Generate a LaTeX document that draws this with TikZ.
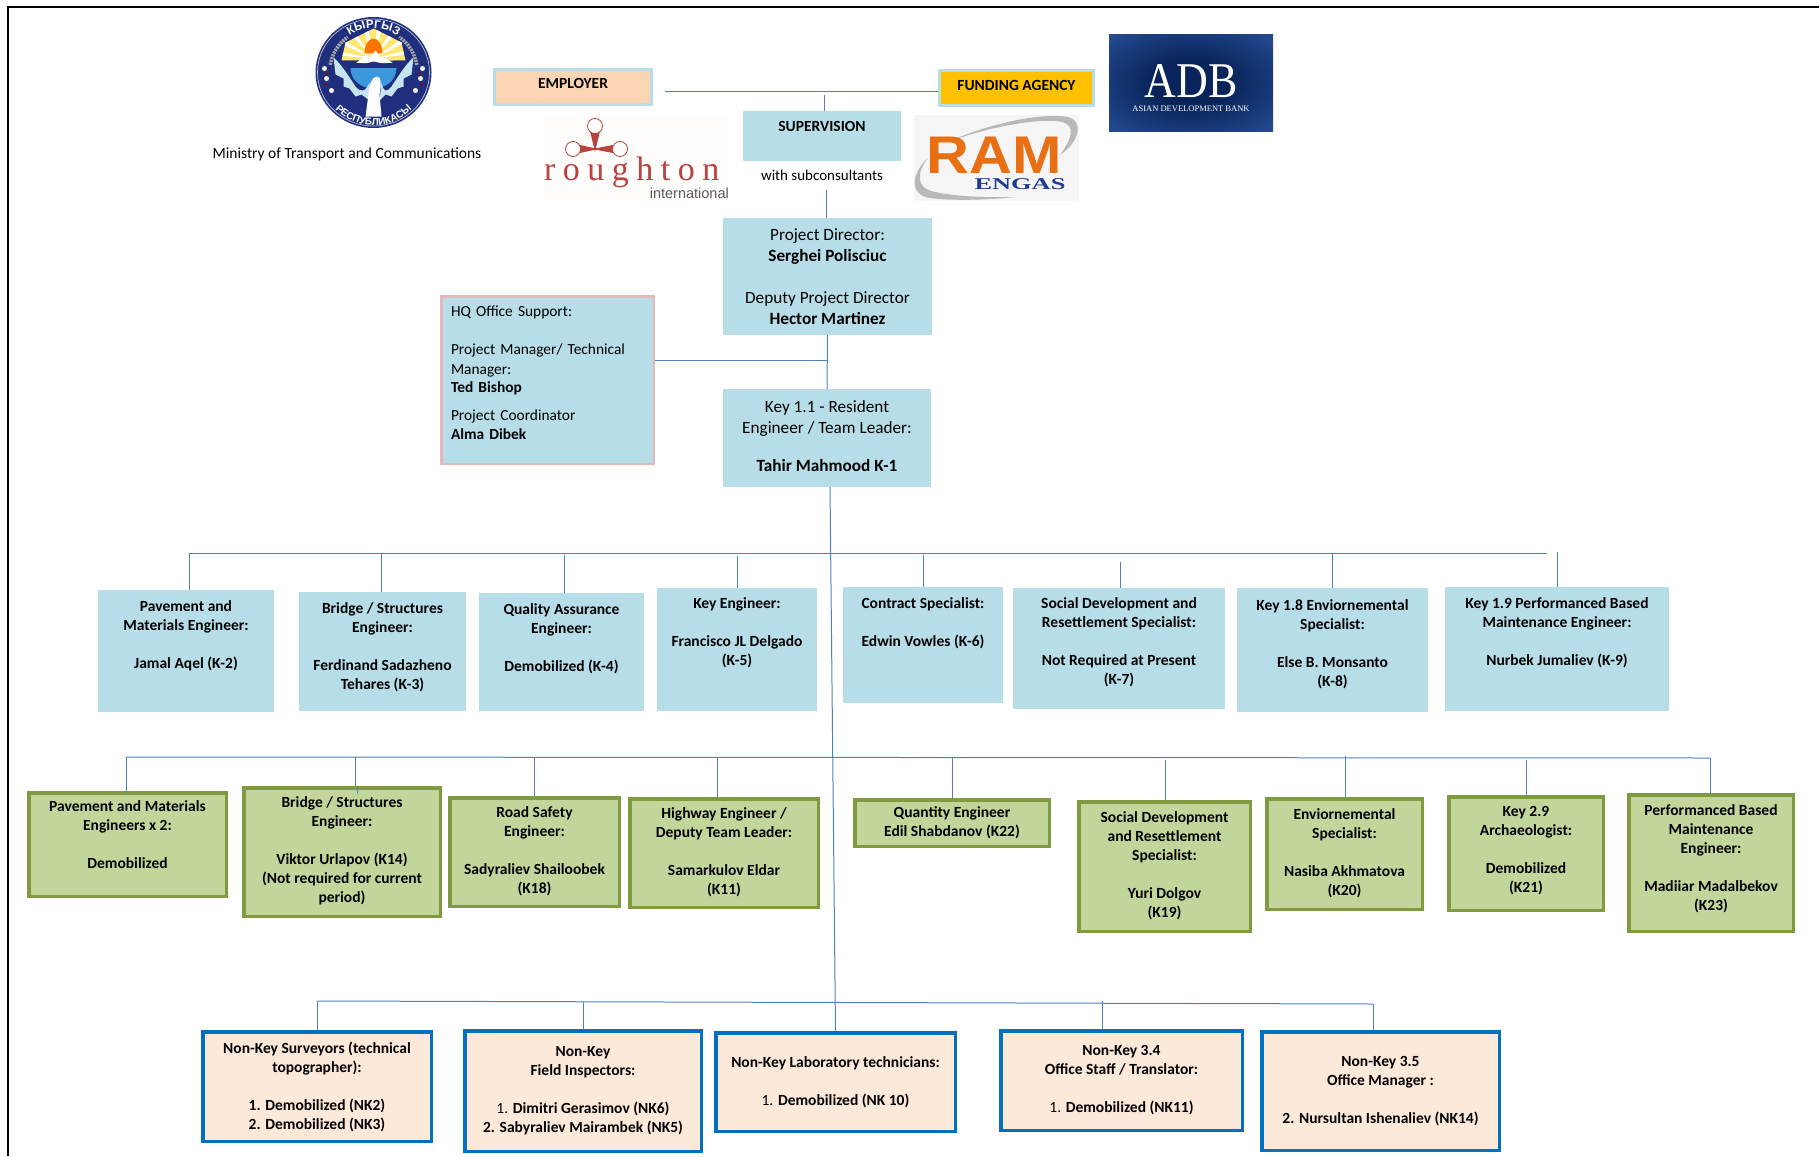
\documentclass[tikz,border=0pt]{standalone}
\usepackage{fontspec}
\setmainfont{Carlito}
\newfontfamily\emblemfont{Liberation Sans}
\newfontfamily\serifface{Liberation Serif}
\newfontfamily\spacedface[LetterSpace=22]{Liberation Serif}
\newfontfamily\sansface{Liberation Sans}
\usetikzlibrary{positioning,decorations.text}

\definecolor{paleblue}{HTML}{B7DDE8}
\definecolor{palegreen}{HTML}{C2D69B}
\definecolor{darkgreen}{HTML}{7F9A3F}
\definecolor{palepeach}{HTML}{FDE9D9}
\definecolor{peach}{HTML}{FBD4B4}
\definecolor{linkblue}{HTML}{4F81BD}
\definecolor{boxblue}{HTML}{0070C0}
\definecolor{hqpink}{HTML}{E6B8B7}
\definecolor{fundgold}{HTML}{FFC000}
\definecolor{navyring}{HTML}{1F2F7E}
\definecolor{logored}{HTML}{B8433F}
\definecolor{ramorange}{HTML}{E86F14}
\definecolor{ramblue}{HTML}{1F3A93}
\definecolor{adbdark}{HTML}{08245A}
\definecolor{adbmid}{HTML}{24498F}
\definecolor{adblight}{HTML}{4472C4}

\pgfdeclareradialshading{adbglow}{\pgfpoint{0bp}{0bp}}{color(0bp)=(adbdark); color(12bp)=(adbdark); color(34bp)=(adbmid); color(50bp)=(adblight); color(70bp)=(adblight)}

\newcommand{\liftby}[1]{\\[\dimexpr 2\dimexpr #1\relax-19pt\relax]\mbox{}}

\tikzset{
	boxsize/.style 2 args={anchor=north west, inner sep=0pt, align=center, minimum width=#1pt-\pgflinewidth, minimum height=#2pt-\pgflinewidth},
	smalltext/.style={font=\fontsize{15.5}{19}\selectfont},
	bigtext/.style={font=\fontsize{17.2}{21}\selectfont},
	boldtext/.style={font=\fontsize{15.5}{19}\selectfont\bfseries},
	topbox/.style={draw=paleblue, line width=3pt, boldtext},
	bluebox/.style={fill=paleblue, boldtext},
	leadbox/.style={fill=paleblue, bigtext},
	greenbox/.style={draw=darkgreen, fill=palegreen, line width=3.5pt, boldtext},
	peachbox/.style={draw=boxblue, fill=palepeach, line width=3.5pt, boldtext},
	conn/.style={draw=linkblue, line width=1pt},
}

\begin{document}
\begin{tikzpicture}[x=1pt,y=-1pt]
\useasboundingbox (0,0) rectangle (1819,1156);
\draw [line width=2pt] (1819,7) -- (8,7) -- (8,1156);

% top row
\node [topbox, boxsize={160}{38}, fill=peach] (emp) at (493,68) {EMPLOYER\liftby{3.5pt}};
\node [topbox, boxsize={157}{38}, fill=fundgold] (fund) at (938,69) {FUNDING AGENCY\liftby{3pt}};
\node [bluebox, boxsize={158}{50}] (sup) at (743,111) {SUPERVISION\liftby{10pt}};
\node [smalltext, font=\fontsize{15}{19}\selectfont, below=6pt of sup] (subs) {with subconsultants};
\node [smalltext, inner sep=0pt] (mot) at (347,154) {Ministry of Transport and Communications};

% director and team leader
\node [leadbox, boxsize={209}{117}] (dir) at (723,218) {Project Director:\\\textbf{Serghei Polisciuc}\\[21pt]Deputy Project Director\\\textbf{Hector Martinez}};
\node [leadbox, boxsize={208}{98}] (k1) at (723,389) {Key 1.1 - Resident\\Engineer / Team Leader:\\[17pt]\textbf{Tahir Mahmood K-1}\liftby{1pt}};
\node [boxsize={215}{170}, draw=hqpink, fill=paleblue, line width=2.5pt, align=left, text width=193pt, font=\fontsize{15.4}{19}\selectfont] (hq) at (440,295) {HQ Office Support:\\[19pt]Project Manager/ Technical\\[1pt]Manager:\\[-1pt]\textbf{Ted Bishop}\\[9pt]Project Coordinator\\\textbf{Alma Dibek}\liftby{7pt}};

% key staff
\node [bluebox, boxsize={176}{122}] (k2) at (98,590) {Pavement and\\Materials Engineer:\\[19pt]Jamal Aqel (K-2)\liftby{16pt}};
\node [bluebox, boxsize={167}{119}] (k3) at (299,592) {Bridge / Structures\\Engineer:\\[19pt]Ferdinand Sadazheno\\Tehares (K-3)\liftby{5pt}};
\node [bluebox, boxsize={165}{118}] (k4) at (479,593) {Quality Assurance\\Engineer:\\[19pt]Demobilized (K-4)\liftby{14pt}};
\node [bluebox, boxsize={160}{123}] (k5) at (657,588) {Key Engineer:\\[19pt]Francisco JL Delgado\\(K-5)\liftby{17.5pt}};
\node [bluebox, boxsize={160}{116}] (k6) at (843,587) {Contract Specialist:\\[19pt]Edwin Vowles (K-6)\liftby{23pt}};
\node [bluebox, boxsize={212}{121}] (k7) at (1013,588) {Social Development and\\Resettlement Specialist:\\[19pt]Not Required at Present\\(K-7)\liftby{7pt}};
\node [bluebox, boxsize={191}{124}] (k8) at (1237,588) {Key 1.8 Enviornemental\\Specialist:\\[19pt]Else B. Monsanto\\(K-8)\liftby{7pt}};
\node [bluebox, boxsize={224}{124}] (k9) at (1445,587) {Key 1.9 Performanced Based\\Maintenance Engineer:\\[19pt]Nurbek Jumaliev (K-9)\liftby{17pt}};

% second row
\node [greenbox, boxsize={201}{107}] (g1) at (27,791) {Pavement and Materials\\Engineers x 2:\\[19pt]Demobilized\liftby{10pt}};
\node [greenbox, boxsize={200}{132}] (g2) at (242,786) {Bridge / Structures\\Engineer:\\[19pt]Viktor Urlapov (K14)\\(Not required for current\\period)\liftby{2pt}};
\node [greenbox, boxsize={173}{112}] (g3) at (448,796) {Road Safety\\Engineer:\\[19pt]Sadyraliev Shailoobek\\(K18)\liftby{1.5pt}};
\node [greenbox, boxsize={192}{112}] (g4) at (628,797) {Highway Engineer /\\Deputy Team Leader:\\[19pt]Samarkulov Eldar\\(K11)\liftby{1.5pt}};
\node [greenbox, boxsize={198}{50}] (g5) at (853,798) {Quantity Engineer\\Edil Shabdanov (K22)};
\node [greenbox, boxsize={175}{133}] (g6) at (1077,800) {Social Development\\and Resettlement\\Specialist:\\[19pt]Yuri Dolgov\\(K19)\liftby{1.5pt}};
\node [greenbox, boxsize={159}{114}] (g7) at (1265,797) {Enviornemental\\Specialist:\\[19pt]Nasiba Akhmatova\\(K20)\liftby{2pt}};
\node [greenbox, boxsize={158}{117}] (g8) at (1447,795) {Key 2.9\\Archaeologist:\\[19pt]Demobilized\\(K21)\liftby{4pt}};
\node [greenbox, boxsize={168}{140}] (g9) at (1627,793) {Performanced Based\\Maintenance\\Engineer:\\[19pt]Madiiar Madalbekov\\(K23)\liftby{5.5pt}};

% non-key staff
\node [peachbox, boxsize={232}{113}] (n1) at (201,1030) {Non-Key Surveyors (technical\\topographer):\\[19pt]1. Demobilized (NK2)\\2. Demobilized (NK3)};
\node [peachbox, boxsize={240}{124}] (n2) at (463,1029) {Non-Key\\Field Inspectors:\\[19pt]{\mdseries 1.} Dimitri Gerasimov (NK6)\\2. Sabyraliev Mairambek (NK5)};
\node [peachbox, boxsize={243}{102}] (n3) at (714,1031) {Non-Key Laboratory technicians:\\[19pt]{\mdseries 1.} Demobilized (NK 10)};
\node [peachbox, boxsize={245}{103}] (n4) at (999,1029) {Non-Key 3.4\\Office Staff / Translator:\\[19pt]{\mdseries 1.} Demobilized (NK11)};
\node [peachbox, boxsize={241}{122}] (n5) at (1260,1030) {Non-Key 3.5\\Office Manager :\\[19pt]2. Nursultan Ishenaliev (NK14)};

% connectors
\coordinate (l1) at (665,91);
\coordinate (l2) at (824,95);
\coordinate (l3) at (826,190);
\coordinate (j1) at (827,360);
\coordinate (m) at (830,487);
\draw [conn] (l1) -- (l1 -| fund.west);
\draw [conn] (l2) -- (l2 |- sup.north);
\draw [conn] (l3) -- (l3 |- dir.north);
\draw [conn] (dir.south) -- (k1.north);
\draw [conn] (hq.east |- j1) -- (j1);
\draw [conn] (m) -- (n3.north);

\coordinate (bk1) at (189,553);
\coordinate (bk2) at (1547,553);
\coordinate (bg1) at (126,757);
\coordinate (bg2) at (1710,758);
\coordinate (bn1) at (317,1001);
\coordinate (bn2) at (1373,1004);
\draw [conn] (bk1) -- (bk2);
\draw [conn] (bg1) -- (bg2);
\draw [conn] (bn1) -- (bn2);

\foreach \n/\x/\y in {k2/189/553,k3/381/553,k4/564/555,k5/737/556,k6/923/555,k7/1120/562,k8/1332/553,k9/1557/552,
	g1/126/757,g2/355/757,g3/534/757,g4/717/757,g5/952/757,g6/1165/760,g7/1345/756,g8/1526/760,g9/1710/758,
	n1/317/1001,n2/583/1002,n4/1102/1001,n5/1373/1004}
{
	\coordinate (t\n) at (\x,\y);
	\draw [conn] (t\n) -- (t\n |- \n.north);
}
\coordinate (e2) at (357,794);
\draw [conn] (g2.north -| e2) -- (e2);

% emblem
\begin{scope}[shift={(373.5,72.5)},x=1pt,y=1pt]
	\fill [navyring] (0,0) ellipse [x radius=58, y radius=55.5];
	\draw [white!70!navyring, line width=.7pt] (0,0) ellipse [x radius=56, y radius=53.5];
	\begin{scope}
		\clip (-32,12) -- (-28,30) -- (0,44) -- (28,30) -- (32,12) -- cycle;
		\fill [orange!35!yellow!55!white] (-36,8) rectangle (36,46);
		\foreach \a in {10,28,...,170}
			\fill [white] (0,14) -- (\a-3:45) -- (\a+3:45) -- cycle;
	\end{scope}
	\fill [orange!90!red] (-9,19) arc [start angle=180, end angle=0, x radius=9, y radius=15] -- cycle;
	\fill [white] (-18,9) -- (-12,14) -- (-8,17) -- (-4,14) -- (2,22) -- (7,15) -- (13,14) -- (20,9) -- cycle;
	\fill [navyring] (-25,10) -- (-8,9) -- (0,11) -- (9,9) -- (25,10) -- (25,4.5) -- (-25,4.5) -- cycle;
	\fill [cyan!70!blue!80!white] (-23,4.5) -- (23,4.5) .. controls (23,-8) and (12,-16) .. (0,-16) .. controls (-12,-16) and (-23,-8) .. (-23,4.5) -- cycle;
	\fill [paleblue!80!white] (-40,15) .. controls (-32,8) and (-26,-2) .. (-18,-14) .. controls (-13,-20) and (-8,-20) .. (-4,-10) -- (-4,-28) -- (-12,-22) -- (-18,-24) -- (-24,-16) -- (-30,-14) -- (-30,-6) -- (-38,-2) -- cycle;
	\fill [paleblue!80!white] (40,15) .. controls (32,8) and (26,-2) .. (18,-14) .. controls (13,-20) and (10,-20) .. (8,-10) -- (6,-28) -- (12,-22) -- (18,-24) -- (24,-16) -- (30,-14) -- (30,-6) -- (38,-2) -- cycle;
	\fill [white] (3,-4) .. controls (-1,-5) and (-5,-12) .. (-5,-22) -- (-8,-44) -- (8,-44) -- (6,-22) .. controls (8,-12) and (8,-4) .. (3,-4) -- cycle;
	\foreach \p in {(-47,-6),(-49,4),(-42,-18),(47,-6),(49,4),(42,-18)}
		\fill [white] \p circle [radius=2.5];
	\foreach \p in {(-48,-12),(-46,-1),(48,-12),(46,-1)}
		\fill [red!60!black] \p circle [radius=1.4];
	\draw [gray!70!white, line width=3.5pt, dash pattern=on 2pt off 1pt] (170:44) arc [start angle=170, end angle=126, radius=44];
	\draw [gray!70!white, line width=3.5pt, dash pattern=on 2pt off 1pt] (10:44) arc [start angle=10, end angle=54, radius=44];
	\path [decorate, decoration={text along path, text align=center, text color=white, text={|\emblemfont\fontsize{11.5}{11.5}\selectfont\bfseries|КЫРГЫЗ}}] (130:44) arc [start angle=130, end angle=50, radius=44];
	\path [decorate, decoration={text along path, text align=center, text color=white, text={|\emblemfont\fontsize{10}{10}\selectfont\bfseries|РЕСПУБЛИКАСЫ}}] (205:53) arc [start angle=205, end angle=335, radius=53];
\end{scope}

% roughton logo
\fill [white!99!red] (545,118) rectangle (728,200);
\fill [logored] (595,152) -- (590,131) -- (600,131) -- cycle;
\fill [logored] (598,149) -- (580,145) -- (580,153) -- cycle;
\fill [logored] (592,149) -- (613,145) -- (613,153) -- cycle;
\foreach \p in {(595,126),(573,149),(620,149)}
	\draw [logored, fill=white, line width=.8pt] \p circle [radius=7.5];
\node [inner sep=0pt, anchor=base west, text=logored, font=\spacedface\fontsize{34}{34}\selectfont] (rtext) at (544,180) {roughton};
\node [inner sep=0pt, anchor=base east, text=black!65, font=\sansface\fontsize{14.5}{14.5}\selectfont] (rint) at (729,198) {international};

% ram logo
\fill [white!96!black] (914,115) rectangle (1079,201);
\fill [gray!55!white] (948,142) .. controls (985,125) and (1040,112) .. (1068,117) .. controls (1082,120) and (1082,140) .. (1060,155) .. controls (1072,138) and (1076,126) .. (1062,122) .. controls (1040,117) and (985,128) .. (948,142) -- cycle;
\fill [gray!55!white] (928,158) .. controls (912,172) and (908,195) .. (930,198) .. controls (950,201) and (990,200) .. (1015,197) .. controls (985,198) and (945,196) .. (928,190) .. controls (916,184) and (918,170) .. (928,158) -- cycle;
\node [inner sep=0pt, anchor=base, text=ramorange, xscale=1.12, font=\sansface\bfseries\fontsize{53}{53}\selectfont] (ramtext) at (994,173) {RAM};
\node [inner sep=0pt, anchor=base, text=ramblue, xscale=1.6, font=\serifface\bfseries\fontsize{16.5}{16.5}\selectfont] (engas) at (1020,189) {ENGAS};

% adb logo
\shade [shading=adbglow] (1109,35) rectangle (1273,131);
\node [inner sep=0pt, anchor=base, text=white, xscale=.88, font=\serifface\fontsize{50}{50}\selectfont] (adbtext) at (1191,97) {ADB};
\node [inner sep=0pt, anchor=base, text=white, font=\serifface\fontsize{8.5}{8.5}\selectfont] (adbname) at (1191,111) {ASIAN DEVELOPMENT BANK};
\end{tikzpicture}
\end{document}
